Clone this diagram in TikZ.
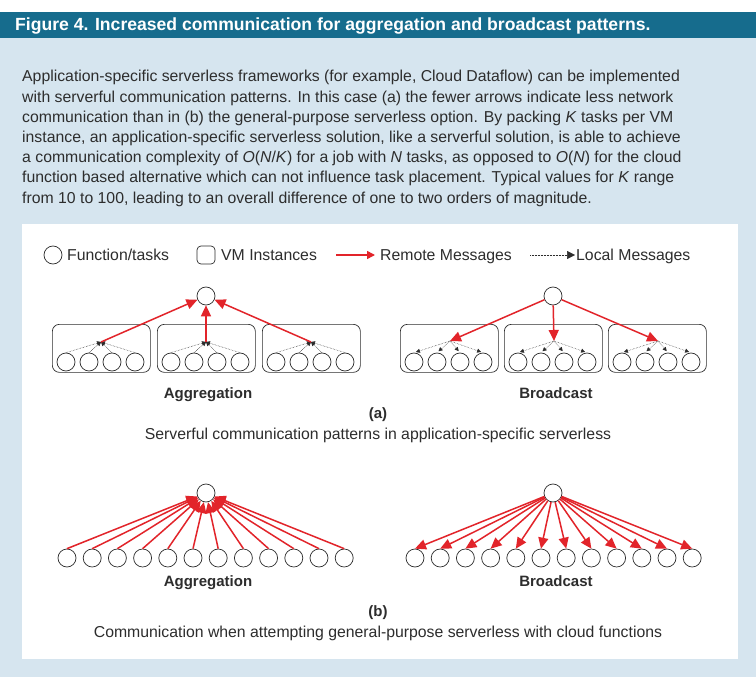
\documentclass[tikz,border=0pt]{standalone}
\usepackage{fontspec}
\setmainfont{Liberation Sans}
\usetikzlibrary{arrows.meta}

\definecolor{headblue}{RGB}{22,108,141}
\definecolor{paleblue}{RGB}{214,229,239}
\definecolor{msgred}{RGB}{226,36,42}
\definecolor{inkgray}{RGB}{45,45,45}

\tikzset{
  task/.style={circle, draw=inkgray, line width=0.7pt, minimum size=18pt, inner sep=0pt},
  vmbox/.style={draw=inkgray, line width=0.7pt, rounded corners=7pt, minimum width=98pt, minimum height=48pt, inner sep=0pt},
  remote/.style={draw=msgred, line width=1.5pt, -{Triangle[length=11pt,width=10pt]}},
  local/.style={draw=inkgray, densely dotted, line width=0.5pt, -{Triangle[length=4pt,width=4pt]}},
  label/.style={font=\bfseries\fontsize{15}{18}\selectfont, text=inkgray},
  caption/.style={font=\fontsize{15.8}{18}\selectfont, text=inkgray},
}

\begin{document}
\begin{tikzpicture}[x=1pt, y=-1pt, font=\fontsize{15.8}{20.2}\selectfont]
  %%%%% FRAME %%%%%
  \fill[white] (0,0) rectangle (756,677);
  \useasboundingbox (0,0) rectangle (756,677);
  \fill[paleblue] (0,38) rectangle (756,677);
  \fill[headblue] (0,12) rectangle (756,38);
  \node[anchor=base west, inner sep=0pt, text=white, font=\bfseries\fontsize{17.6}{18}\selectfont] (title) at (15,31) {Figure 4. Increased communication for aggregation and broadcast patterns.};

  % baseline of the last line
  \node[anchor=base west, inner sep=0pt, align=left, text=inkgray] (intro) at (22,203) {Application-specific serverless frameworks (for example, Cloud Dataflow) can be implemented\\
with serverful communication patterns. In this case (a) the fewer arrows indicate less network\\
communication than in (b) the general-purpose serverless option. By packing \textit{K} tasks per VM\\
instance, an application-specific serverless solution, like a serverful solution, is able to achieve\\
a communication complexity of \textit{O}(\textit{N}/\textit{K}) for a job with \textit{N} tasks, as opposed to \textit{O}(\textit{N}) for the cloud\\
function based alternative which can not influence task placement. Typical values for \textit{K} range\\
from 10 to 100, leading to an overall difference of one to two orders of magnitude.};

  \fill[white] (22,224) rectangle (738,659);

  %%%%% LEGEND %%%%%
  \node[task] (lgtask) at (53,255) {};
  \node[anchor=base west, inner sep=0pt, caption] (lgtasktxt) at (67,260) {Function/tasks};
  \node[vmbox, minimum width=18pt, minimum height=18pt, rounded corners=4pt] (lgvm) at (206,255) {};
  \node[anchor=base west, inner sep=0pt, caption] (lgvmtxt) at (221,260) {VM Instances};
  \coordinate (lgrema) at (336,255);
  \coordinate (lgremb) at (375,255);
  \draw[remote, -{Triangle[length=8pt,width=8pt]}] (lgrema) -- (lgremb);
  \node[anchor=base west, inner sep=0pt, caption] (lgremtxt) at (380,260) {Remote Messages};
  \coordinate (lgloca) at (530,255);
  \coordinate (lglocb) at (575,255);
  \draw[local, -{Triangle[length=8pt,width=8pt]}] (lgloca) -- (lglocb);
  \node[anchor=base west, inner sep=0pt, caption] (lgloctxt) at (576,260) {Local Messages};

  %%%%% (a) AGGREGATION %%%%%
  \node[task] (agtop) at (206,296) {};
  \foreach \b/\bx in {1/52,2/157,3/262}{
    \node[vmbox, anchor=north west] (agvm\b) at (\bx,324) {};
    \coordinate (agmeet\b) at (\bx+49,342);
    \foreach \k in {0,...,3}{
      \node[task] (agtask\b\k) at (\bx+14+23*\k,362) {};
      \draw[local] (agtask\b\k.north) -- (agmeet\b);
    }
    \draw[remote] (agmeet\b) -- (agtop);
  }
  \node[label, anchor=base] (aglabel) at (208,398) {Aggregation};

  %%%%% (a) BROADCAST %%%%%
  \node[task] (bctop) at (553,296) {};
  \foreach \b/\bx in {1/400,2/504,3/608}{
    \node[vmbox, anchor=north west] (bcvm\b) at (\bx,324) {};
    \coordinate (bcmeet\b) at (\bx+50,341);
    \foreach \k in {0,...,3}{
      \node[task] (bctask\b\k) at (\bx+14+23*\k,362) {};
      \draw[local, shorten >=2pt] (bcmeet\b) -- (bctask\b\k.north);
    }
    \draw[remote] (bctop) -- (bcmeet\b);
  }
  \node[label, anchor=base] (bclabel) at (556,398) {Broadcast};

  \node[label, anchor=base] (alabel) at (378,418) {(a)};
  \node[caption, anchor=base] (acaption) at (378,439) {Serverful communication patterns in application-specific serverless};

  %%%%% (b) AGGREGATION %%%%%
  \node[task] (fagtop) at (206,493) {};
  \foreach \k in {0,...,11}{
    \node[task] (fagtask\k) at (67+25.2*\k,558) {};
    \draw[remote] (fagtask\k.north) -- (fagtop);
  }
  \node[label, anchor=base] (faglabel) at (208,586) {Aggregation};

  %%%%% (b) BROADCAST %%%%%
  \node[task] (fbctop) at (553,493) {};
  \foreach \k in {0,...,11}{
    \node[task] (fbctask\k) at (415+25.2*\k,558) {};
    \draw[remote] (fbctop) -- (fbctask\k.north);
  }
  \node[label, anchor=base] (fbclabel) at (556,586) {Broadcast};

  \node[label, anchor=base] (blabel) at (378,616) {(b)};
  \node[caption, anchor=base] (bcaption) at (378,637) {Communication when attempting general-purpose serverless with cloud functions};
\end{tikzpicture}
\end{document}
